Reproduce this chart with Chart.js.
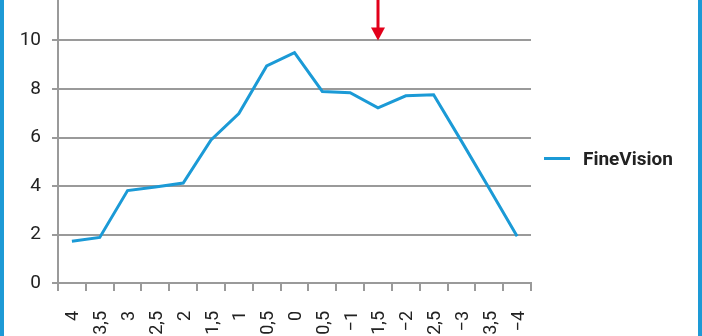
<!DOCTYPE html>
<html>
<head>
<meta charset="utf-8">
<script src="https://cdn.jsdelivr.net/npm/chart.js@4/dist/chart.umd.min.js"></script>
<style>
  html, body { margin: 0; padding: 0; background: #fff; overflow: hidden; }
  body { width: 702px; height: 336px; position: relative; font-family: Roboto, "DejaVu Sans", sans-serif; }
  #wrap { position: absolute; left: 0; top: -10px; width: 702px; height: 346px; }
  .edge { position: absolute; top: 0; width: 4px; height: 336px; background: #1d9ad6; }
  #legend { position: absolute; left: 544px; top: 147px; display: flex; align-items: center; }
  #legend .swatch { width: 26px; height: 3px; background: #1b9ad6; margin-right: 13px; }
  #legend span { font-size: 19px; font-weight: bold; color: #222; }
</style>
</head>
<body>
<div id="wrap"><canvas id="chart"></canvas></div>
<div class="edge" style="left:0"></div>
<div class="edge" style="left:698px"></div>
<div id="legend"><div class="swatch"></div><span>FineVision</span></div>

<script>
// Werte
const categories = ["4", "3,5", "3", "2,5", "2", "1,5", "1", "0,5", "0",
  "−0,5", "−1", "−1,5", "−2", "−2,5", "−3", "−3,5", "−4"];
const fineVision = [1.72, 1.88, 3.81, 3.96, 4.12, 5.9, 6.99, 8.95, 9.5,
  7.9, 7.85, 7.22, 7.72, 7.76, 5.85, 3.9, 1.93];
const yTicks = [0, 2, 4, 6, 8, 10, 12];
const seriesName = "FineVision";

// roter Pfeil: zeigt auf diese Kategorie bis zu diesem Wert
const arrowAt = "−1,5";
const arrowValue = 10;

const arrowPlugin = {
  id: "arrow",
  afterDatasetsDraw(chart) {
    const { ctx, scales } = chart;
    const x = Math.round(scales.x.getPixelForValue(categories.indexOf(arrowAt)));
    const tip = scales.y.getPixelForValue(arrowValue);
    ctx.save();
    ctx.strokeStyle = "#e2001a";
    ctx.fillStyle = "#e2001a";
    ctx.lineWidth = 3;
    ctx.beginPath();
    ctx.moveTo(x, 0);
    ctx.lineTo(x, tip - 10);
    ctx.stroke();
    ctx.beginPath();
    ctx.moveTo(x - 7, tip - 13);
    ctx.lineTo(x + 7, tip - 13);
    ctx.lineTo(x, tip);
    ctx.closePath();
    ctx.fill();
    ctx.restore();
  },
};

new Chart(document.getElementById("chart"), {
  type: "line",
  data: {
    labels: categories,
    datasets: [
      {
        label: seriesName,
        data: fineVision,
        borderColor: "#1b9ad6",
        borderWidth: 3,
        pointRadius: 0,
        tension: 0,
        fill: false,
      },
    ],
  },
  options: {
    responsive: true,
    maintainAspectRatio: false,
    animation: false,
    layout: { padding: { top: 2, right: 171, left: 0, bottom: 0 } },
    plugins: {
      legend: { display: false },
      tooltip: { enabled: false },
    },
    scales: {
      x: {
        offset: true,
        grid: { offset: true, drawOnChartArea: false, drawTicks: true, tickLength: 8, color: "#9a9a9a", lineWidth: 2 },
        border: { display: true, color: "#9a9a9a", width: 2 },
        ticks: {
          autoSkip: false,
          minRotation: 90,
          maxRotation: 90,
          padding: 20,
          labelOffset: 2,
          color: "#222",
          font: { family: "Roboto", size: 18 },
        },
        afterFit(scale) {
          scale.height = 53;
          scale.paddingLeft = 0;
          scale.paddingRight = 0;
        },
      },
      y: {
        min: 0,
        max: 12,
        afterBuildTicks(scale) {
          scale.ticks = yTicks.map((v) => ({ value: v }));
        },
        grid: { color: "#9a9a9a", lineWidth: 2, tickLength: 6 },
        border: { display: true, color: "#9a9a9a", width: 2 },
        ticks: {
          padding: 11,
          color: "#222",
          font: { family: "Roboto", size: 19 },
        },
        afterFit(scale) {
          scale.width = 58;
          scale.paddingTop = 0;
          scale.paddingBottom = 0;
        },
      },
    },
  },
  plugins: [arrowPlugin],
});
</script>
</body>
</html>
